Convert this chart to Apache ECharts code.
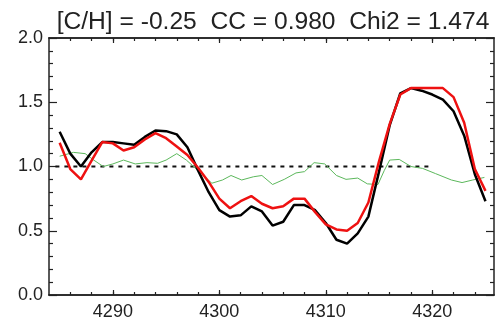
<!DOCTYPE html>
<html>
<head>
<meta charset="utf-8">
<script src="https://cdn.jsdelivr.net/npm/echarts@6/dist/echarts.min.js"></script>
<style>
  html, body { margin: 0; padding: 0; background: #fff; }
  #chart { width: 502px; height: 328px; }
</style>
</head>
<body>
<div id="chart"></div>
<script>
// Wavelength grid (Å) shared by the observed and synthetic spectra
const wavelength = [
  4285, 4286, 4287, 4288, 4289, 4290, 4291, 4292, 4293, 4294,
  4295, 4296, 4297, 4298, 4299, 4300, 4301, 4302, 4303, 4304,
  4305, 4306, 4307, 4308, 4309, 4310, 4311, 4312, 4313, 4314,
  4315, 4316, 4317, 4318, 4319, 4320, 4321, 4322, 4323, 4324, 4325
];
// Observed normalised flux (black)
const observed = [
  1.27, 1.10, 1.00, 1.11, 1.19, 1.19, 1.18, 1.17, 1.23, 1.28,
  1.275, 1.25, 1.15, 0.97, 0.80, 0.66, 0.61, 0.62, 0.69, 0.65,
  0.54, 0.57, 0.70, 0.70, 0.66, 0.56, 0.43, 0.40, 0.48, 0.61,
  0.96, 1.32, 1.57, 1.61, 1.59, 1.56, 1.52, 1.43, 1.24, 0.94, 0.73
];
// Best-fit synthetic flux (red)
const synthetic = [
  1.185, 0.98, 0.90, 1.045, 1.19, 1.18, 1.125, 1.15, 1.21, 1.26,
  1.22, 1.155, 1.09, 0.99, 0.88, 0.75, 0.675, 0.73, 0.77, 0.71,
  0.675, 0.69, 0.75, 0.75, 0.645, 0.55, 0.51, 0.50, 0.56, 0.72,
  1.04, 1.33, 1.56, 1.61, 1.61, 1.61, 1.61, 1.54, 1.34, 0.98, 0.81
];
// Flux ratio trace (green)
const ratioWave = [
  4285.0, 4286.3, 4287.4, 4288.2, 4289.1, 4290.0, 4291.0, 4292.1, 4293.2, 4294.2,
  4295.0, 4296.0, 4296.9, 4297.5, 4298.5, 4299.3, 4300.3, 4301.1, 4302.1, 4303.2,
  4304.0, 4305.0, 4306.1, 4307.2, 4308.0, 4308.9, 4309.9, 4311.0, 4311.9, 4313.0,
  4313.9, 4314.9, 4315.5, 4316.0, 4316.9, 4318.0, 4319.1, 4320.3, 4321.8, 4322.8,
  4323.8, 4324.9
];
const ratio = [
  1.08, 1.11, 1.10, 1.05, 1.00, 1.02, 1.05, 1.02, 1.03, 1.025,
  1.05, 1.10, 1.05, 1.006, 0.93, 0.87, 0.895, 0.93, 0.895, 0.92,
  0.93, 0.86, 0.90, 0.95, 0.96, 1.03, 1.02, 0.93, 0.90, 0.91,
  0.865, 0.86, 0.97, 1.05, 1.055, 1.00, 0.985, 0.945, 0.895, 0.875,
  0.895, 0.915
];
// Continuum reference level
const continuumWave = [4284.6, 4319.7];
const continuumLevel = [1.0, 1.0];

// Axis ticks
const xMin = 4284, xMax = 4325.8;
const xLabelTicks = [4290, 4300, 4310, 4320];
const xMinorTicks = [];
for (let w = 4286; w <= 4324; w += 2) xMinorTicks.push(w);

const titleText = '[C/H] = -0.25  CC = 0.980  Chi2 = 1.474';

const font = 'Liberation Sans, Arial, Helvetica, sans-serif';
const ink = '#222';
const pairs = (xs, ys) => xs.map((x, i) => [x, ys[i]]);

function xAxisDef(position, values, len, showLabel) {
  return {
    type: 'value', position: position, min: xMin, max: xMax,
    axisLine: { show: true, lineStyle: { color: ink, width: 1.5 } },
    splitLine: { show: false },
    axisTick: { show: true, inside: true, length: len, customValues: values,
      lineStyle: { color: ink, width: 1.2 } },
    axisLabel: { show: showLabel, customValues: values, margin: 8,
      color: ink, fontSize: 18, fontFamily: font, formatter: v => String(v) }
  };
}

function yAxisDef(position, showLabel) {
  return {
    type: 'value', position: position, min: 0, max: 2, interval: 0.5,
    axisLine: { show: true, lineStyle: { color: ink, width: 1.5 } },
    splitLine: { show: false },
    axisTick: { show: true, inside: true, length: 8, lineStyle: { color: ink, width: 1.2 } },
    minorTick: { show: true, splitNumber: 5, length: 4, lineStyle: { color: ink, width: 1.2 } },
    axisLabel: { show: showLabel, margin: 6, color: ink, fontSize: 18, fontFamily: font,
      formatter: v => v.toFixed(1) }
  };
}

const chart = echarts.init(document.getElementById('chart'), null, { renderer: 'canvas' });
chart.setOption({
  animation: false,
  backgroundColor: '#fff',
  title: {
    text: titleText, left: 268, top: 5, textAlign: 'center',
    textStyle: { color: ink, fontSize: 24.6, fontWeight: 'normal', fontFamily: font }
  },
  grid: { left: 49, right: 8, top: 38, bottom: 33, containLabel: false },
  xAxis: [
    xAxisDef('bottom', xLabelTicks, 5, true),
    xAxisDef('bottom', xMinorTicks, 3, false),
    xAxisDef('top', xLabelTicks, 5, false),
    xAxisDef('top', xMinorTicks, 3, false)
  ],
  yAxis: [yAxisDef('left', true), yAxisDef('right', false)],
  series: [
    {
      type: 'line', data: pairs(continuumWave, continuumLevel), symbol: 'none',
      lineStyle: { color: '#111', width: 2, type: [4, 5] }, z: 1
    },
    {
      type: 'line', data: pairs(ratioWave, ratio), symbol: 'none',
      lineStyle: { color: '#5cb85c', width: 1 }, z: 2
    },
    {
      type: 'line', data: pairs(wavelength, observed), symbol: 'none',
      lineStyle: { color: '#000', width: 2.5 }, z: 3
    },
    {
      type: 'line', data: pairs(wavelength, synthetic), symbol: 'none',
      lineStyle: { color: '#ee1111', width: 2.5 }, z: 4
    }
  ]
});
</script>
</body>
</html>
